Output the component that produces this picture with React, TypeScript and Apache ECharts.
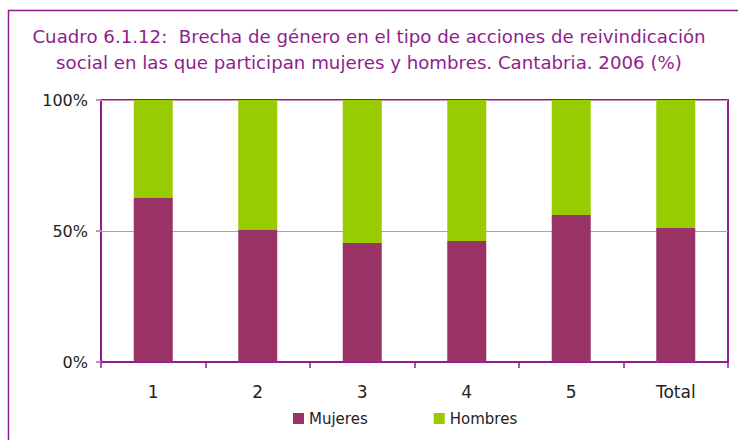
import React, { useEffect, useRef } from "react";
import * as echarts from "echarts";

const categories = ["1", "2", "3", "4", "5", "Total"];
const mujeres = [62.6, 50.4, 45.4, 46.2, 56.1, 51.1];
const hombres = [37.4, 49.6, 54.6, 53.8, 43.9, 48.9];
const yTicks = [0, 50, 100];

const FONT = "DejaVu Sans";

export default function App() {
  const ref = useRef<HTMLDivElement>(null);
  useEffect(() => {
    if (!ref.current) return;
    const chart = echarts.init(ref.current, undefined, { renderer: "svg" });
    chart.setOption({
      animation: false,
      backgroundColor: "#ffffff",
      title: {
        text: "Cuadro 6.1.12:  Brecha de género en el tipo de acciones de reivindicación\nsocial en las que participan mujeres y hombres. Cantabria. 2006 (%)",
        left: "center",
        top: 18,
        padding: [5, 5, 5, 17],
        textStyle: {
          color: "#8e1e8e",
          fontFamily: FONT,
          fontSize: 18.2,
          fontWeight: "normal",
          lineHeight: 26,
        },
      },
      graphic: [
        {
          type: "rect",
          shape: { x: 8.5, y: 10.5, width: 760, height: 460 },
          style: { fill: "none", stroke: "#8e1e8e", lineWidth: 1.5 },
          silent: true,
        },
      ],
      legend: {
        data: ["Mujeres", "Hombres"],
        left: 288,
        top: 406,
        icon: "rect",
        itemWidth: 11,
        itemHeight: 11,
        itemGap: 66,
        textStyle: { fontFamily: FONT, fontSize: 15, color: "#222" },
      },
      grid: {
        left: 101,
        right: 10,
        top: 100,
        bottom: 78,
        show: true,
        borderColor: "#8e1e8e",
        borderWidth: 2,
        backgroundColor: "transparent",
      },
      xAxis: {
        type: "category",
        data: categories,
        axisLine: { show: true, lineStyle: { color: "#8e1e8e", width: 2 } },
        axisTick: { show: true, length: 6, lineStyle: { color: "#8e1e8e", width: 1.5 } },
        axisLabel: { fontFamily: FONT, fontSize: 17, color: "#222", margin: 21 },
      },
      yAxis: {
        type: "value",
        min: 0,
        max: 100,
        interval: 50,
        axisLine: { show: false },
        axisTick: { show: true, length: 5, lineStyle: { color: "#c890b8", width: 2 } },
        splitLine: { show: true, lineStyle: { color: "#c890b8", width: 1 } },
        axisLabel: {
          fontFamily: FONT,
          fontSize: 16,
          color: "#222",
          margin: 13,
          formatter: (v: number) => (yTicks.includes(v) ? v + "%" : ""),
        },
      },
      series: [
        {
          name: "Mujeres",
          type: "bar",
          stack: "total",
          data: mujeres,
          barWidth: 39,
          itemStyle: { color: "#993366" },
        },
        {
          name: "Hombres",
          type: "bar",
          stack: "total",
          data: hombres,
          barWidth: 39,
          itemStyle: { color: "#99cc00" },
        },
      ],
    });
    return () => chart.dispose();
  }, []);
  return <div ref={ref} style={{ width: 738, height: 440, position: "absolute", left: 0, top: 0 }} />;
}
